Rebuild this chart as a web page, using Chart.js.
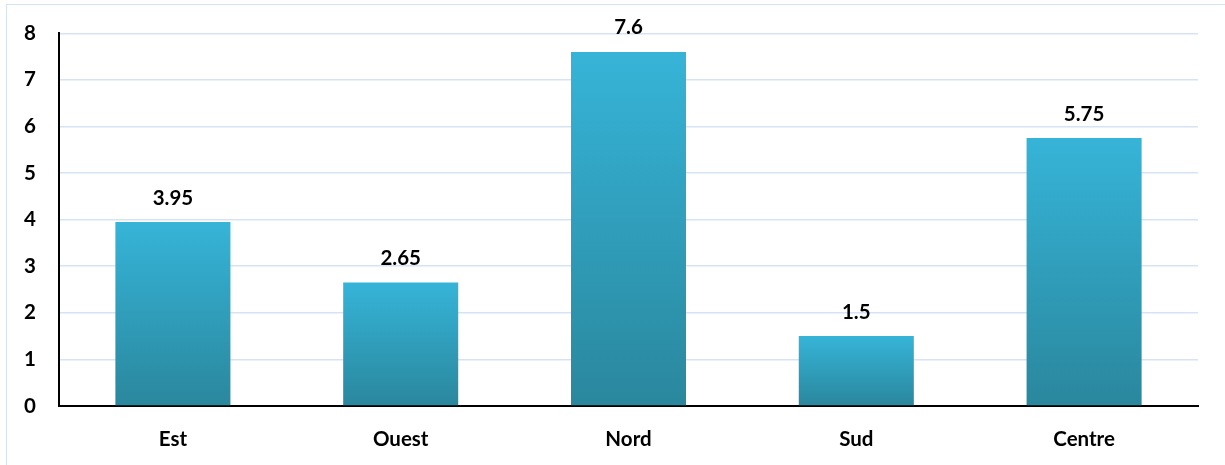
<!DOCTYPE html>
<html lang="fr">
<head>
    <meta charset="UTF-8">
    <title>Valeurs par région</title>
    <script src="https://cdn.jsdelivr.net/npm/chart.js"></script>
    <style>
        html, body { margin: 0; padding: 0; background: #fff; overflow: hidden; }
        #frame {
            position: absolute; left: 6px; top: 4px;
            width: 1240px; height: 480px;
            border: 1.5px solid #d5e2f3;
        }
        #wrap { position: absolute; left: 0; top: 0; width: 1225px; height: 465px; }
    </style>
</head>
<body>
    <div id="frame"></div>
    <div id="wrap"><canvas id="barChart"></canvas></div>

    <script>
        // Data
        const categories = ['Est', 'Ouest', 'Nord', 'Sud', 'Centre'];
        const values = [3.95, 2.65, 7.6, 1.5, 5.75];
        const yTicks = [0, 1, 2, 3, 4, 5, 6, 7, 8];

        const FONT = { family: 'Lato, "Open Sans", sans-serif', size: 20.5, weight: 'bold' };

        // per-bar vertical gradient, light at the top, darker at the base
        function barGradient(context) {
            const chart = context.chart;
            const y = chart.scales.y;
            if (!chart.chartArea || !y || context.parsed === undefined) return '#35b3d6';
            const top = y.getPixelForValue(context.parsed.y);
            const bottom = y.getPixelForValue(0);
            const g = chart.ctx.createLinearGradient(0, top, 0, bottom);
            g.addColorStop(0, '#36b4d8');
            g.addColorStop(1, '#2a879d');
            return g;
        }

        // value labels above bars
        const valueLabels = {
            id: 'valueLabels',
            afterDatasetsDraw(chart) {
                const ctx = chart.ctx;
                const meta = chart.getDatasetMeta(0);
                ctx.save();
                ctx.font = `${FONT.weight} ${FONT.size}px ${FONT.family}`;
                ctx.fillStyle = '#000';
                ctx.textAlign = 'center';
                ctx.textBaseline = 'middle';
                meta.data.forEach((bar, i) => {
                    ctx.fillText(String(values[i]), bar.x, bar.y - 24);
                });
                ctx.restore();
            }
        };

        new Chart(document.getElementById('barChart').getContext('2d'), {
            type: 'bar',
            data: {
                labels: categories,
                datasets: [{
                    data: values,
                    backgroundColor: barGradient,
                    borderWidth: 0,
                    barPercentage: 0.505,
                    categoryPercentage: 1
                }]
            },
            options: {
                responsive: true,
                maintainAspectRatio: false,
                animation: false,
                layout: { padding: { top: 0, right: 27, left: 0, bottom: 0 } },
                plugins: {
                    legend: { display: false },
                    tooltip: { enabled: false }
                },
                scales: {
                    x: {
                        grid: { display: false, drawTicks: false },
                        border: { display: true, color: '#000', width: 2 },
                        ticks: { color: '#000', font: FONT, padding: 21 },
                        afterFit(scale) { scale.height = 59; }
                    },
                    y: {
                        min: 0,
                        max: 8,
                        afterBuildTicks(scale) { scale.ticks = yTicks.map(v => ({ value: v })); },
                        grid: { color: '#d6e3f4', lineWidth: 1.5, drawTicks: false },
                        border: { display: true, color: '#000', width: 2 },
                        // lineHeight 1 keeps the top of the plot at ~33px
                        ticks: { color: '#000', font: { ...FONT, lineHeight: 1 }, padding: 23 },
                        afterFit(scale) { scale.width = 59; }
                    }
                }
            },
            plugins: [valueLabels]
        });
    </script>
</body>
</html>
